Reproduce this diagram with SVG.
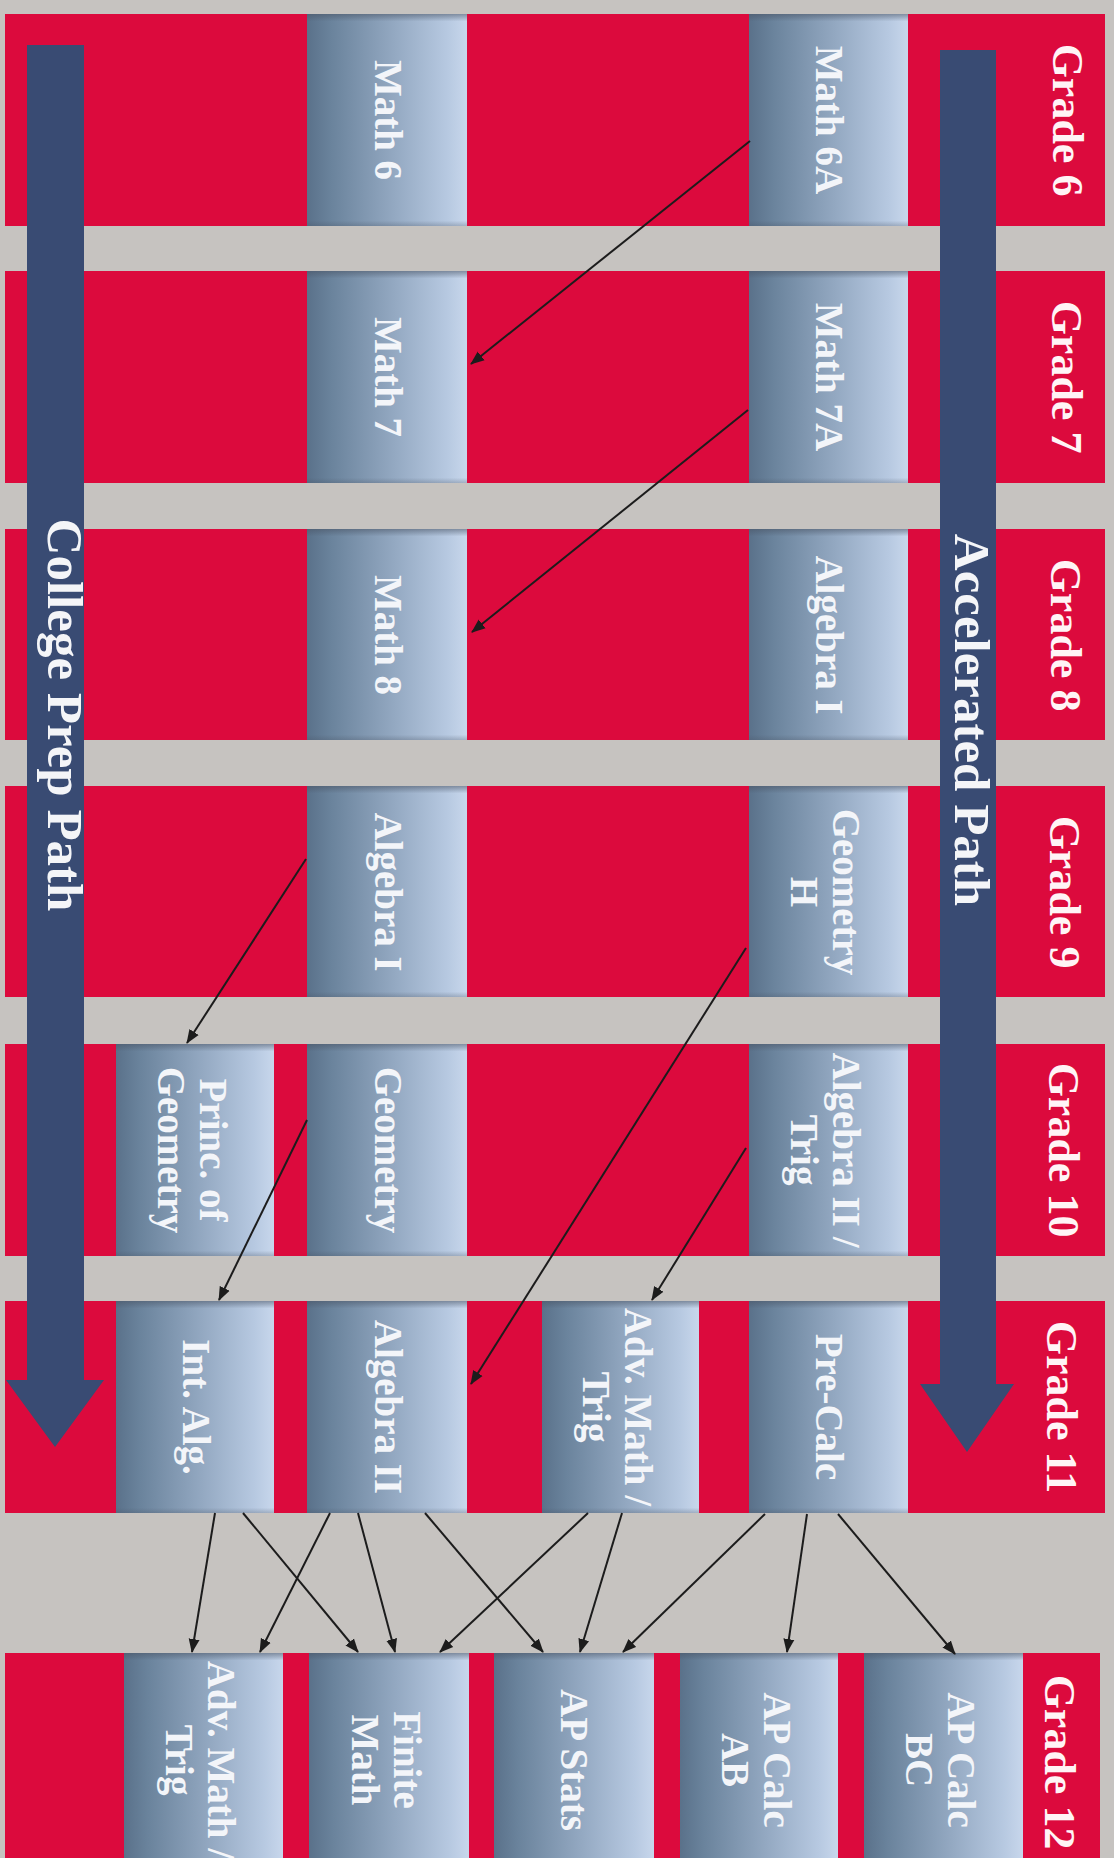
<svg xmlns="http://www.w3.org/2000/svg" width="1114" height="1858" viewBox="0 0 1114 1858">
  <style>
    .band { fill: #dc0a3d; }
    .box { fill: url(#boxg); }
    .shade { fill: url(#shadeg); }
    .lbl { font-family: "Liberation Serif", "Times New Roman", serif; font-weight: bold; font-size: 39px; fill: #f3f5f9; text-anchor: middle; }
    .grade { font-family: "Liberation Serif", "Times New Roman", serif; font-weight: bold; font-size: 44px; fill: #fff4f6; text-anchor: middle; }
    .path { font-family: "Liberation Serif", "Times New Roman", serif; font-weight: bold; font-size: 51px; fill: #f4f5f8; text-anchor: middle; }
    .bar { fill: #394b73; }
    .conn { stroke: #1c1c1c; stroke-width: 2; fill: none; marker-end: url(#ah); }
  </style>
  <defs>
    <linearGradient id="boxg" x1="0" y1="0" x2="1" y2="0">
      <stop offset="0" stop-color="#5a718a"/>
      <stop offset="0.15" stop-color="#6a839c"/>
      <stop offset="0.55" stop-color="#94a9c2"/>
      <stop offset="0.88" stop-color="#b7c9e1"/>
      <stop offset="1" stop-color="#c8d7ec"/>
    </linearGradient>
    <linearGradient id="shadeg" x1="0" y1="0" x2="0" y2="1">
      <stop offset="0" stop-color="#4a5566" stop-opacity="0.55"/>
      <stop offset="0.035" stop-color="#4a5566" stop-opacity="0"/>
      <stop offset="0.975" stop-color="#4a5566" stop-opacity="0"/>
      <stop offset="1" stop-color="#4a5566" stop-opacity="0.3"/>
    </linearGradient>
    <marker id="ah" markerUnits="userSpaceOnUse" markerWidth="14" markerHeight="12" refX="13" refY="6" orient="auto" viewBox="0 0 14 12">
      <path d="M0,0.5 L14,6 L0,11.5 z" fill="#1c1c1c"/>
    </marker>
  </defs>

  <rect x="0" y="0" width="1114" height="1858" fill="#c6c3c0"/>

  <!-- grade bands -->
  <g id="bands">
    <rect class="band" x="5" y="14" width="1100" height="212"/>
    <rect class="band" x="5" y="271" width="1100" height="212"/>
    <rect class="band" x="5" y="529" width="1100" height="211"/>
    <rect class="band" x="5" y="786" width="1100" height="211"/>
    <rect class="band" x="5" y="1044" width="1100" height="212"/>
    <rect class="band" x="5" y="1301" width="1100" height="212"/>
    <rect class="band" x="5" y="1653" width="1095" height="215"/>
  </g>

  <!-- path arrows -->
  <g id="path-accelerated">
    <polygon class="bar" points="940,50 996,50 996,1384 1014,1384 967,1452 920,1384 940,1384"/>
    <text class="path" transform="translate(955,720) rotate(90)">Accelerated Path</text>
  </g>
  <g id="path-collegeprep">
    <polygon class="bar" points="27,45 84,45 84,1380 104,1380 55,1447 6,1380 27,1380"/>
    <text class="path" transform="translate(48,715) rotate(90)">College Prep Path</text>
  </g>

  <!-- grade labels -->
  <g id="grade-labels">
    <text class="grade" transform="translate(1053,120) rotate(90)">Grade 6</text>
    <text class="grade" transform="translate(1052,377) rotate(90)">Grade 7</text>
    <text class="grade" transform="translate(1051,635) rotate(90)">Grade 8</text>
    <text class="grade" transform="translate(1050,892) rotate(90)">Grade 9</text>
    <text class="grade" transform="translate(1049,1150) rotate(90)">Grade 10</text>
    <text class="grade" transform="translate(1047,1407) rotate(90)">Grade 11</text>
    <text class="grade" transform="translate(1045,1762) rotate(90)">Grade 12</text>
  </g>

  <!-- Grade 6 -->
  <g id="math6">
    <rect class="box" x="307" y="14" width="160" height="212"/><rect class="shade" x="307" y="14" width="160" height="212"/>
    <text class="lbl" transform="translate(375,120) rotate(90)">Math 6</text>
  </g>
  <g id="math6a">
    <rect class="box" x="749" y="14" width="159" height="212"/><rect class="shade" x="749" y="14" width="159" height="212"/>
    <text class="lbl" transform="translate(816,120) rotate(90)">Math 6A</text>
  </g>

  <!-- Grade 7 -->
  <g id="math7">
    <rect class="box" x="307" y="271" width="160" height="212"/><rect class="shade" x="307" y="271" width="160" height="212"/>
    <text class="lbl" transform="translate(375,377) rotate(90)">Math 7</text>
  </g>
  <g id="math7a">
    <rect class="box" x="749" y="271" width="159" height="212"/><rect class="shade" x="749" y="271" width="159" height="212"/>
    <text class="lbl" transform="translate(816,377) rotate(90)">Math 7A</text>
  </g>

  <!-- Grade 8 -->
  <g id="math8">
    <rect class="box" x="307" y="529" width="160" height="211"/><rect class="shade" x="307" y="529" width="160" height="211"/>
    <text class="lbl" transform="translate(375,635) rotate(90)">Math 8</text>
  </g>
  <g id="algebra1-acc">
    <rect class="box" x="749" y="529" width="159" height="211"/><rect class="shade" x="749" y="529" width="159" height="211"/>
    <text class="lbl" transform="translate(816,635) rotate(90)">Algebra I</text>
  </g>

  <!-- Grade 9 -->
  <g id="algebra1-cp">
    <rect class="box" x="307" y="786" width="160" height="211"/><rect class="shade" x="307" y="786" width="160" height="211"/>
    <text class="lbl" transform="translate(375,892) rotate(90)">Algebra I</text>
  </g>
  <g id="geometry-h">
    <rect class="box" x="749" y="786" width="159" height="211"/><rect class="shade" x="749" y="786" width="159" height="211"/>
    <text class="lbl" transform="translate(833,892) rotate(90)"><tspan x="0" y="0">Geometry</tspan><tspan x="0" y="42">H</tspan></text>
  </g>

  <!-- Grade 10 -->
  <g id="princ-geometry">
    <rect class="box" x="116" y="1044" width="158" height="212"/><rect class="shade" x="116" y="1044" width="158" height="212"/>
    <text class="lbl" transform="translate(200,1150) rotate(90)"><tspan x="0" y="0">Princ. of</tspan><tspan x="0" y="42">Geometry</tspan></text>
  </g>
  <g id="geometry">
    <rect class="box" x="307" y="1044" width="160" height="212"/><rect class="shade" x="307" y="1044" width="160" height="212"/>
    <text class="lbl" transform="translate(375,1150) rotate(90)">Geometry</text>
  </g>
  <g id="algebra2-trig">
    <rect class="box" x="749" y="1044" width="159" height="212"/><rect class="shade" x="749" y="1044" width="159" height="212"/>
    <text class="lbl" transform="translate(833,1150) rotate(90)"><tspan x="0" y="0">Algebra II /</tspan><tspan x="0" y="42">Trig</tspan></text>
  </g>

  <!-- Grade 11 -->
  <g id="int-alg">
    <rect class="box" x="116" y="1301" width="158" height="212"/><rect class="shade" x="116" y="1301" width="158" height="212"/>
    <text class="lbl" transform="translate(183,1407) rotate(90)">Int. Alg.</text>
  </g>
  <g id="algebra2">
    <rect class="box" x="307" y="1301" width="160" height="212"/><rect class="shade" x="307" y="1301" width="160" height="212"/>
    <text class="lbl" transform="translate(375,1407) rotate(90)">Algebra II</text>
  </g>
  <g id="adv-math-11">
    <rect class="box" x="542" y="1301" width="157" height="212"/><rect class="shade" x="542" y="1301" width="157" height="212"/>
    <text class="lbl" transform="translate(625,1407) rotate(90)"><tspan x="0" y="0">Adv. Math /</tspan><tspan x="0" y="42">Trig</tspan></text>
  </g>
  <g id="pre-calc">
    <rect class="box" x="749" y="1301" width="159" height="212"/><rect class="shade" x="749" y="1301" width="159" height="212"/>
    <text class="lbl" transform="translate(816,1407) rotate(90)">Pre-Calc</text>
  </g>

  <!-- Grade 12 -->
  <g id="adv-math-12">
    <rect class="box" x="124" y="1653" width="159" height="215"/><rect class="shade" x="124" y="1653" width="159" height="215"/>
    <text class="lbl" transform="translate(208,1760) rotate(90)"><tspan x="0" y="0">Adv. Math /</tspan><tspan x="0" y="42">Trig</tspan></text>
  </g>
  <g id="finite-math">
    <rect class="box" x="309" y="1653" width="160" height="215"/><rect class="shade" x="309" y="1653" width="160" height="215"/>
    <text class="lbl" transform="translate(394,1760) rotate(90)"><tspan x="0" y="0">Finite</tspan><tspan x="0" y="42">Math</tspan></text>
  </g>
  <g id="ap-stats">
    <rect class="box" x="494" y="1653" width="160" height="215"/><rect class="shade" x="494" y="1653" width="160" height="215"/>
    <text class="lbl" transform="translate(561,1760) rotate(90)">AP Stats</text>
  </g>
  <g id="ap-calc-ab">
    <rect class="box" x="680" y="1653" width="158" height="215"/><rect class="shade" x="680" y="1653" width="158" height="215"/>
    <text class="lbl" transform="translate(764,1760) rotate(90)"><tspan x="0" y="0">AP Calc</tspan><tspan x="0" y="42">AB</tspan></text>
  </g>
  <g id="ap-calc-bc">
    <rect class="box" x="864" y="1653" width="159" height="215"/><rect class="shade" x="864" y="1653" width="159" height="215"/>
    <text class="lbl" transform="translate(948,1760) rotate(90)"><tspan x="0" y="0">AP Calc</tspan><tspan x="0" y="42">BC</tspan></text>
  </g>

  <!-- connectors -->
  <g id="connectors">
    <line class="conn" x1="750" y1="141" x2="471" y2="364"/>
    <line class="conn" x1="748" y1="410" x2="472" y2="632"/>
    <line class="conn" x1="306" y1="859" x2="187" y2="1043"/>
    <line class="conn" x1="746" y1="948" x2="471" y2="1384"/>
    <line class="conn" x1="307" y1="1120" x2="219" y2="1300"/>
    <line class="conn" x1="746" y1="1148" x2="652" y2="1300"/>

    <line class="conn" x1="215" y1="1513" x2="192" y2="1652"/>
    <line class="conn" x1="243" y1="1513" x2="358" y2="1652"/>
    <line class="conn" x1="330" y1="1513" x2="260" y2="1652"/>
    <line class="conn" x1="358" y1="1513" x2="395" y2="1652"/>
    <line class="conn" x1="425" y1="1513" x2="543" y2="1652"/>
    <line class="conn" x1="588" y1="1513" x2="440" y2="1652"/>
    <line class="conn" x1="622" y1="1513" x2="580" y2="1652"/>
    <line class="conn" x1="765" y1="1514" x2="623" y2="1652"/>
    <line class="conn" x1="807" y1="1514" x2="787" y2="1652"/>
    <line class="conn" x1="838" y1="1514" x2="955" y2="1654"/>
  </g>
</svg>
